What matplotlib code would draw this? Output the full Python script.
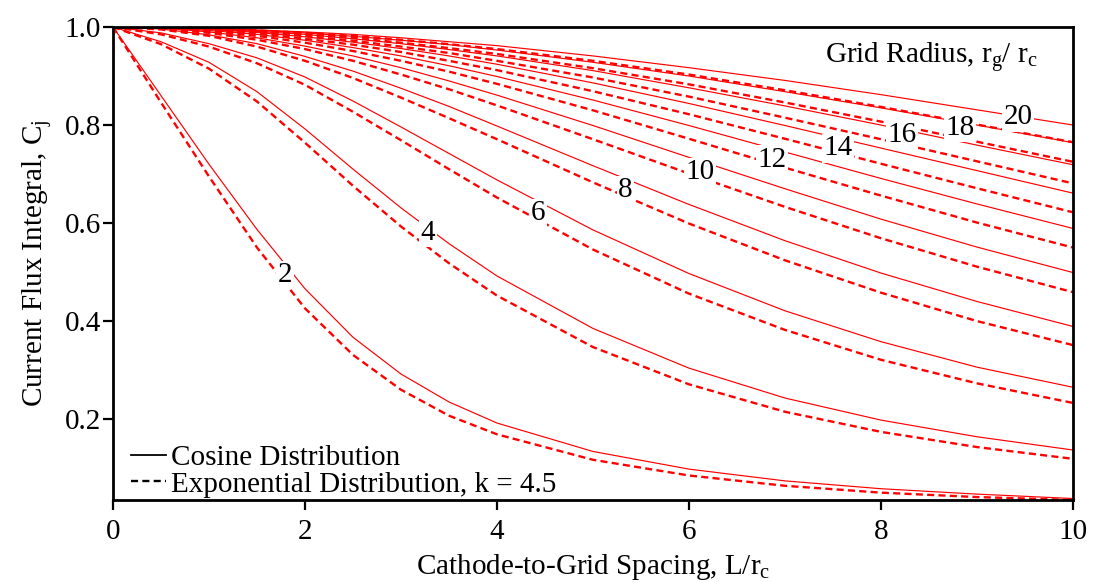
import matplotlib
matplotlib.use("Agg")
import matplotlib.pyplot as plt
from matplotlib.lines import Line2D

plt.rcParams['font.family'] = ['Liberation Serif', 'DejaVu Serif']
plt.rcParams['mathtext.fontset'] = 'custom'
plt.rcParams['mathtext.rm'] = 'Liberation Serif'
plt.rcParams['mathtext.it'] = 'Liberation Serif'

# cathode-to-grid spacing L/rc
spacing = [0, 0.5, 1, 1.5, 2, 2.5, 3, 3.5, 4, 5, 6, 7, 8, 9, 10]
radii = [2, 4, 6, 8, 10, 12, 14, 16, 18, 20]

# cosine distribution (solid)
cos_r2 = [1.0, 0.860, 0.720, 0.587, 0.466, 0.367, 0.292, 0.235, 0.192, 0.134, 0.098, 0.074, 0.058, 0.047, 0.038]
cos_r4 = [1.0, 0.970, 0.928, 0.868, 0.792, 0.710, 0.631, 0.558, 0.492, 0.385, 0.304, 0.243, 0.198, 0.164, 0.137]
cos_r6 = [1.0, 0.988, 0.966, 0.937, 0.898, 0.849, 0.796, 0.742, 0.688, 0.586, 0.497, 0.421, 0.358, 0.306, 0.265]
cos_r8 = [1.0, 0.996, 0.984, 0.966, 0.940, 0.910, 0.875, 0.838, 0.798, 0.717, 0.638, 0.564, 0.498, 0.440, 0.389]
cos_r10 = [1.0, 0.998, 0.990, 0.978, 0.961, 0.941, 0.917, 0.890, 0.861, 0.799, 0.734, 0.670, 0.608, 0.551, 0.499]
cos_r12 = [1.0, 0.998, 0.993, 0.985, 0.973, 0.958, 0.941, 0.921, 0.899, 0.851, 0.799, 0.745, 0.691, 0.639, 0.589]
cos_r14 = [1.0, 0.999, 0.995, 0.989, 0.980, 0.969, 0.956, 0.941, 0.924, 0.886, 0.844, 0.799, 0.753, 0.707, 0.661]
cos_r16 = [1.0, 0.999, 0.996, 0.991, 0.985, 0.976, 0.966, 0.954, 0.941, 0.911, 0.876, 0.839, 0.800, 0.759, 0.719]
cos_r18 = [1.0, 0.999, 0.997, 0.993, 0.988, 0.981, 0.973, 0.964, 0.953, 0.928, 0.900, 0.868, 0.835, 0.800, 0.764]
cos_r20 = [1.0, 0.999, 0.998, 0.994, 0.990, 0.985, 0.978, 0.970, 0.962, 0.941, 0.917, 0.891, 0.862, 0.831, 0.800]

# exponential distribution, k = 4.5 (dashed)
exp_r2 = [1.0, 0.846, 0.695, 0.550, 0.426, 0.331, 0.260, 0.207, 0.169, 0.117, 0.085, 0.064, 0.050, 0.041, 0.035]
exp_r4 = [1.0, 0.965, 0.915, 0.848, 0.764, 0.676, 0.593, 0.518, 0.452, 0.347, 0.271, 0.215, 0.174, 0.143, 0.119]
exp_r6 = [1.0, 0.985, 0.960, 0.926, 0.882, 0.827, 0.769, 0.710, 0.652, 0.546, 0.456, 0.382, 0.321, 0.273, 0.233]
exp_r8 = [1.0, 0.995, 0.982, 0.960, 0.931, 0.896, 0.856, 0.814, 0.771, 0.683, 0.599, 0.524, 0.458, 0.400, 0.351]
exp_r10 = [1.0, 0.997, 0.988, 0.974, 0.955, 0.931, 0.903, 0.873, 0.840, 0.771, 0.701, 0.633, 0.569, 0.511, 0.459]
exp_r12 = [1.0, 0.998, 0.992, 0.982, 0.968, 0.951, 0.931, 0.909, 0.884, 0.830, 0.772, 0.713, 0.656, 0.601, 0.550]
exp_r14 = [1.0, 0.999, 0.994, 0.987, 0.976, 0.964, 0.949, 0.931, 0.912, 0.869, 0.822, 0.772, 0.721, 0.671, 0.622]
exp_r16 = [1.0, 0.999, 0.995, 0.990, 0.982, 0.972, 0.960, 0.947, 0.931, 0.897, 0.858, 0.815, 0.771, 0.726, 0.681]
exp_r18 = [1.0, 0.999, 0.996, 0.992, 0.986, 0.978, 0.968, 0.957, 0.945, 0.916, 0.883, 0.846, 0.807, 0.766, 0.725]
exp_r20 = [1.0, 0.999, 0.997, 0.993, 0.988, 0.982, 0.974, 0.965, 0.955, 0.931, 0.903, 0.871, 0.837, 0.801, 0.765]

cosine = [cos_r2, cos_r4, cos_r6, cos_r8, cos_r10, cos_r12, cos_r14, cos_r16, cos_r18, cos_r20]
expo = [exp_r2, exp_r4, exp_r6, exp_r8, exp_r10, exp_r12, exp_r14, exp_r16, exp_r18, exp_r20]

# where the radius labels sit on the curves
label_x = [1.79, 3.28, 4.43, 5.34, 6.11, 6.86, 7.55, 8.22, 8.82, 9.43]
label_y = [0.494, 0.580, 0.620, 0.667, 0.704, 0.729, 0.753, 0.780, 0.794, 0.816]

fs = 21
fig = plt.figure(figsize=(10.94, 5.82), dpi=100)
ax = fig.add_axes([0.1033, 0.1409, 0.8775, 0.8127])

for c, e in zip(cosine, expo):
    ax.plot(spacing, c, color='#ff0000', lw=0.85, solid_joinstyle='round')
    ax.plot(spacing, e, color='#ff0000', lw=1.7, dashes=(3.0, 1.8))

for r, lx, ly in zip(radii, label_x, label_y):
    ax.text(lx, ly, str(r), fontsize=fs, ha='center', va='center', zorder=5,
            bbox=dict(boxstyle='square,pad=0.05', fc='white', ec='none'))

ax.text(0.9635, 0.924, r'Grid Radius, $\mathrm{r_g}$/ $\mathrm{r_c}$', transform=ax.transAxes,
        fontsize=fs, ha='right', va='baseline')

handles = [Line2D([], [], color='black', lw=1.3),
           Line2D([], [], color='black', lw=1.7, dashes=(3.0, 1.8))]
ax.legend(handles, ['Cosine Distribution', 'Exponential Distribution, k = 4.5'],
          loc='lower left', bbox_to_anchor=(0.019, 0.005), frameon=False, fontsize=fs,
          handlelength=1.2, handletextpad=0.15, labelspacing=0.0,
          borderpad=0.0, borderaxespad=0.0)

ax.set_xlim(0, 10)
ax.set_ylim(0.035, 1.0)
ax.set_xticks([0, 2, 4, 6, 8, 10])
ax.set_yticks([0.2, 0.4, 0.6, 0.8, 1.0])
ax.set_yticklabels(['0.2', '0.4', '0.6', '0.8', '1.0'])
ax.tick_params(axis='both', direction='out', length=7, width=1.6, labelsize=fs)
ax.tick_params(axis='x', pad=7)
ax.tick_params(axis='y', pad=1.5)
for s in ax.spines.values():
    s.set_linewidth(2.0)

ax.set_xlabel(r'Cathode-to-Grid Spacing, L/$\mathrm{r_c}$', fontsize=fs, labelpad=5)
ax.set_ylabel(r'Current Flux Integral, $\mathrm{C_j}$', fontsize=fs, labelpad=8)

fig.savefig('out.png', dpi=100)
